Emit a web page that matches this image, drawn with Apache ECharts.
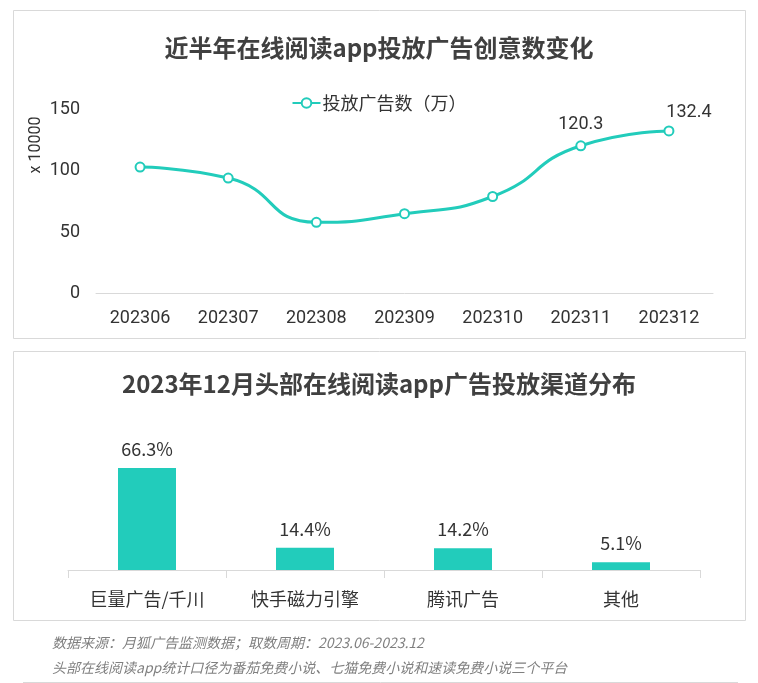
<!DOCTYPE html>
<html>
<head>
<meta charset="utf-8">
<script src="https://cdn.jsdelivr.net/npm/echarts@6/dist/echarts.min.js"></script>
<style>
  html, body { margin: 0; padding: 0; background: #fff; }
  #main { width: 758px; height: 683px; }
</style>
</head>
<body>
<div id="main"></div>
<script>
// 近半年投放广告创意数（万）
const months = ['202306', '202307', '202308', '202309', '202310', '202311', '202312'];
const adCounts = [103, 94, 58, 65, 79, 120.3, 132.4];
// 只给最后两个点显示数值
const labeledMonths = ['202311', '202312'];

// 12月渠道分布
const channels = ['巨量广告/千川', '快手磁力引擎', '腾讯广告', '其他'];
const channelShares = [66.3, 14.4, 14.2, 5.1];

const footNotes = [
  '数据来源：月狐广告监测数据；取数周期：2023.06-2023.12',
  '头部在线阅读app统计口径为番茄免费小说、七猫免费小说和速读免费小说三个平台'
];

const teal = '#22ccbb';
const textColor = '#333333';
const fontCJK = '"Noto Sans CJK SC", "Microsoft YaHei", sans-serif';

let chart = echarts.init(document.getElementById('main'), null, { renderer: 'canvas' });

let lineData = adCounts.map(function (v, i) {
  let item = { value: v };
  if (labeledMonths.indexOf(months[i]) > -1) {
    item.label = { show: true };
    if (i === months.length - 1) {
      item.label.offset = [20, 3];
    }
  }
  return item;
});

let option = {
  backgroundColor: '#fff',
  animation: false,
  textStyle: { fontFamily: fontCJK },
  title: [
    {
      text: '近半年在线阅读app投放广告创意数变化',
      left: 'center', top: 36, padding: 0,
      textStyle: { fontSize: 24, fontWeight: 'bold', color: '#404040', fontFamily: fontCJK }
    },
    {
      text: '2023年12月头部在线阅读app广告投放渠道分布',
      left: 'center', top: 372, padding: 0,
      textStyle: { fontSize: 24, fontWeight: 'bold', color: '#404040', fontFamily: fontCJK }
    }
  ],
  legend: {
    data: ['投放广告数（万）'],
    top: 89, left: 'center',
    itemWidth: 28, itemHeight: 12,
    itemGap: 4,
    textStyle: { fontSize: 18, color: textColor, fontFamily: fontCJK, padding: [0, 0, 0, -3] }
  },
  grid: [
    { left: 96, right: 45, top: 109.3, bottom: 389.5 },
    { left: 68, right: 58, top: 416, bottom: 113 }
  ],
  xAxis: [
    {
      gridIndex: 0,
      type: 'category',
      data: months,
      axisLine: { lineStyle: { color: '#d9d9d9' } },
      axisTick: { show: false },
      axisLabel: { fontSize: 18, color: textColor, margin: 16, fontFamily: 'Roboto, sans-serif' }
    },
    {
      gridIndex: 1,
      type: 'category',
      data: channels,
      axisLine: { lineStyle: { color: '#d9d9d9' } },
      axisTick: { show: true, length: 8, lineStyle: { color: '#d9d9d9' } },
      axisLabel: { fontSize: 18, color: textColor, margin: 20, fontFamily: fontCJK }
    }
  ],
  yAxis: [
    {
      gridIndex: 0,
      type: 'value',
      min: 0, max: 150, interval: 50,
      splitLine: { show: false },
      axisLine: { show: false },
      axisTick: { show: false },
      axisLabel: { fontSize: 18, color: textColor, margin: 16, fontFamily: 'Roboto, sans-serif' }
    },
    {
      gridIndex: 1,
      type: 'value',
      min: 0, max: 100,
      show: false
    }
  ],
  series: [
    {
      name: '投放广告数（万）',
      type: 'line',
      xAxisIndex: 0, yAxisIndex: 0,
      smooth: 0.55,
      symbol: 'emptyCircle',
      symbolSize: 9,
      lineStyle: { width: 3, color: teal },
      itemStyle: { color: teal, borderWidth: 1.5 },
      label: {
        show: false,
        position: 'top',
        distance: 7,
        fontSize: 18,
        color: textColor,
        fontFamily: 'Roboto, sans-serif'
      },
      data: lineData
    },
    {
      name: '渠道占比',
      type: 'bar',
      xAxisIndex: 1, yAxisIndex: 1,
      barWidth: 58,
      itemStyle: { color: teal },
      label: {
        show: true,
        position: 'top',
        distance: 10,
        fontSize: 18,
        color: textColor,
        fontFamily: fontCJK,
        formatter: function (p) { return p.value.toFixed(1) + '%'; }
      },
      data: channelShares
    }
  ],
  graphic: [
    {
      type: 'rect', silent: true, z: -1,
      shape: { x: 13.5, y: 10.5, width: 732, height: 328 },
      style: { fill: null, stroke: '#d9d9d9', lineWidth: 1 }
    },
    {
      type: 'rect', silent: true, z: -1,
      shape: { x: 13.5, y: 351.5, width: 732, height: 269 },
      style: { fill: null, stroke: '#d9d9d9', lineWidth: 1 }
    },
    {
      type: 'text',
      x: 36, y: 145,
      rotation: Math.PI / 2,
      style: {
        text: 'x 10000',
        fontSize: 16,
        fill: textColor,
        fontFamily: 'Roboto, sans-serif',
        align: 'center',
        verticalAlign: 'middle'
      }
    },
    {
      type: 'text',
      left: 52, top: 636,
      style: {
        text: footNotes[0],
        fontSize: 14,
        fontStyle: 'italic',
        fill: '#7f7f7f',
        fontFamily: fontCJK
      }
    },
    {
      type: 'text',
      left: 52, top: 661,
      style: {
        text: footNotes[1],
        fontSize: 14,
        fontStyle: 'italic',
        fill: '#7f7f7f',
        fontFamily: fontCJK
      }
    },
    {
      type: 'line', silent: true,
      shape: { x1: 23, y1: 682.5, x2: 738, y2: 682.5 },
      style: { stroke: '#d9d9d9', lineWidth: 1 }
    }
  ]
};

option && chart.setOption(option, true);
</script>
</body>
</html>
